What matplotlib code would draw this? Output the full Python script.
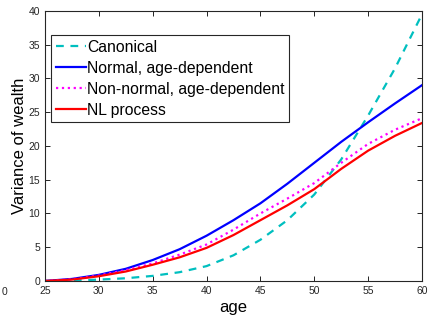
import matplotlib
matplotlib.use("Agg")
import matplotlib.pyplot as plt

plt.rcParams['font.family'] = ['Liberation Sans', 'DejaVu Sans']

# ======================== data
age = [25, 27.5, 30, 32.5, 35, 37.5, 40, 42.5, 45, 47.5, 50, 52.5, 55, 57.5, 60]
canonical = [0, 0.05, 0.2, 0.4, 0.75, 1.3, 2.2, 3.8, 6.1, 9.0, 12.8, 18.0, 24.5, 31.5, 39.5]
normal_age = [0, 0.3, 0.9, 1.8, 3.1, 4.7, 6.7, 9.0, 11.5, 14.4, 17.5, 20.6, 23.5, 26.3, 29.0]
nonnormal_age = [0, 0.25, 0.8, 1.6, 2.6, 3.9, 5.4, 7.6, 10.0, 12.2, 14.5, 17.5, 20.3, 22.4, 24.1]
nl_process = [0, 0.2, 0.7, 1.4, 2.4, 3.5, 4.9, 6.8, 9.0, 11.2, 13.6, 16.6, 19.3, 21.5, 23.4]
xticks = [25, 30, 35, 40, 45, 50, 55, 60]
yticks = [0, 5, 10, 15, 20, 25, 30, 35, 40]

# ======================== plot
fig = plt.figure(figsize=(4.28, 3.2), dpi=100)
ax = fig.add_axes([0.105, 0.122, 0.881, 0.844])

ax.plot(age, canonical, '--', color='#00bfbf', lw=1.6, label='Canonical', dashes=(3.5, 3))
ax.plot(age, normal_age, '-', color='blue', lw=1.6, label='Normal, age-dependent')
ax.plot(age, nonnormal_age, ':', color='magenta', lw=1.6, label='Non-normal, age-dependent')
ax.plot(age, nl_process, '-', color='red', lw=1.6, label='NL process')

ax.set_xlim(25, 60)
ax.set_ylim(0, 40)
ax.set_xticks(xticks)
ax.set_yticks(yticks)
ax.tick_params(direction='in', top=True, right=True, labelsize=7.5,
               labelcolor='#262626', length=3.5, width=0.6)
for s in ax.spines.values():
    s.set_linewidth(0.8)
    s.set_color('#262626')

ax.set_xlabel('age', fontsize=12, labelpad=3)
ax.set_ylabel('Variance of wealth', fontsize=12, labelpad=1)

leg = ax.legend(loc='upper left', bbox_to_anchor=(0.016, 0.911), borderaxespad=0,
                fontsize=11.3, handlelength=1.9, handletextpad=0.1, labelspacing=0.38,
                borderpad=0.3, fancybox=False, framealpha=1)
leg.get_frame().set_edgecolor('#262626')
leg.get_frame().set_linewidth(0.8)

# leftover tick label at the bottom left corner (only its last digit shows)
fig.text(0.004, 0.088, '0', ha='left', va='center', fontsize=7.5, color='#262626')
# ======================== plot END

fig.savefig('out.png', dpi=100)
